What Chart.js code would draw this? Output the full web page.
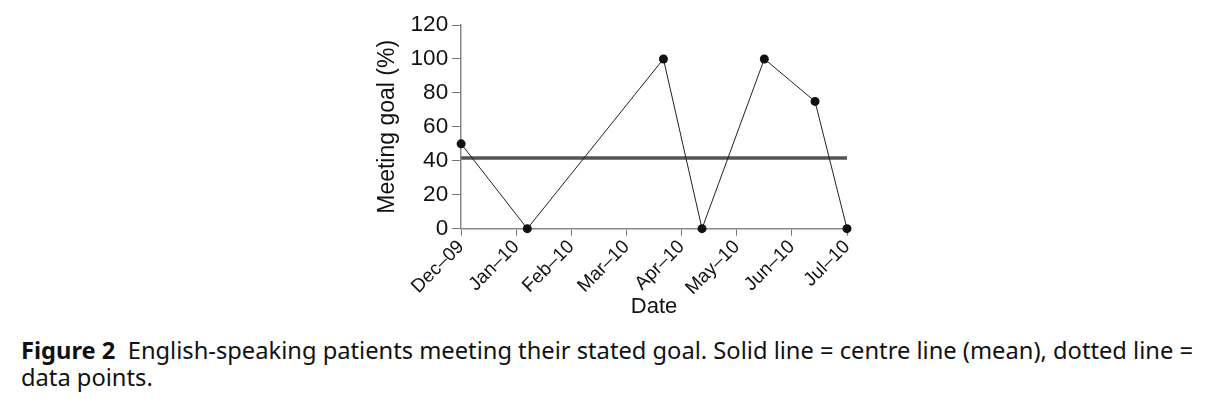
<!DOCTYPE html>
<html>
<head>
<meta charset="utf-8">
<script src="https://cdn.jsdelivr.net/npm/chart.js@4/dist/chart.umd.min.js"></script>
<style>
  body { margin: 0; background: #fff; width: 1207px; height: 399px; overflow: hidden; }
  #wrap { position: absolute; left: 0; top: 0; width: 1207px; height: 330px; }
  #caption { position: absolute; left: 21px; top: 337px; width: 1190px; font-family: "Noto Sans", sans-serif; font-size: 23.7px; line-height: 27px; color: #111; white-space: nowrap; }
  #caption b { font-weight: 700; }
</style>
</head>
<body>
<div id="wrap"><canvas id="chart"></canvas></div>
<div id="caption"><b>Figure 2</b>&nbsp; English-speaking patients meeting their stated goal. Solid line = centre line (mean), dotted line =<br>data points.</div>
<script>
// month labels along the x axis (one per tick)
var monthLabels = ['Dec–09', 'Jan–10', 'Feb–10', 'Mar–10', 'Apr–10', 'May–10', 'Jun–10', 'Jul–10'];
// observation positions, in months after Dec-09
var obsMonths = [0, 1.2, 3.67, 4.37, 5.5, 6.42, 7];
// percent meeting goal
var obsValues = [50, 0, 100, 0, 100, 75, 0];
// centre line (mean)
var meanValue = 41.7;

var pts = obsMonths.map(function (m, i) { return { x: m, y: obsValues[i] }; });
var meanPts = [{ x: 0, y: meanValue }, { x: monthLabels.length - 1, y: meanValue }];

var font = 'Liberation Sans, Arial, sans-serif';

new Chart(document.getElementById('chart'), {
    type: 'line',
    data: {
        datasets: [
            { label: 'Data', data: pts, borderColor: '#222', borderWidth: 1, pointRadius: 4.5, pointBackgroundColor: '#111', pointBorderWidth: 0, tension: 0, clip: false },
            { label: 'Mean', data: meanPts, borderColor: '#555', borderWidth: 3.5, pointRadius: 0, tension: 0, clip: false }
        ]
    },
    options: {
        responsive: true,
        maintainAspectRatio: false,
        animation: false,
        layout: { padding: { left: 374, right: 360, top: 25, bottom: 10 } },
        plugins: { legend: { display: false }, tooltip: { enabled: false } },
        scales: {
            x: {
                type: 'linear', min: 0, max: monthLabels.length - 1,
                grid: { drawOnChartArea: false, color: '#777', tickLength: 7 },
                border: { color: '#888', width: 1.5 },
                ticks: {
                    stepSize: 1, minRotation: 45, maxRotation: 45, color: '#111',
                    font: { family: font, size: 19 }, padding: 0,
                    callback: function (v) { return monthLabels[v]; }
                },
                title: { display: true, text: 'Date', color: '#111', font: { family: font, size: 22 }, padding: { top: -6, bottom: 0 } }
            },
            y: {
                min: 0, max: 120,
                grid: { drawOnChartArea: false, color: '#777', tickLength: 9 },
                border: { color: '#888', width: 1.5 },
                ticks: { stepSize: 20, color: '#111', font: { family: font, size: 22.5 }, padding: 4 },
                title: { display: true, text: 'Meeting goal (%)', color: '#111', font: { family: font, size: 23 }, padding: { top: 0, bottom: 5 } }
            }
        }
    }
});
</script>
</body>
</html>
